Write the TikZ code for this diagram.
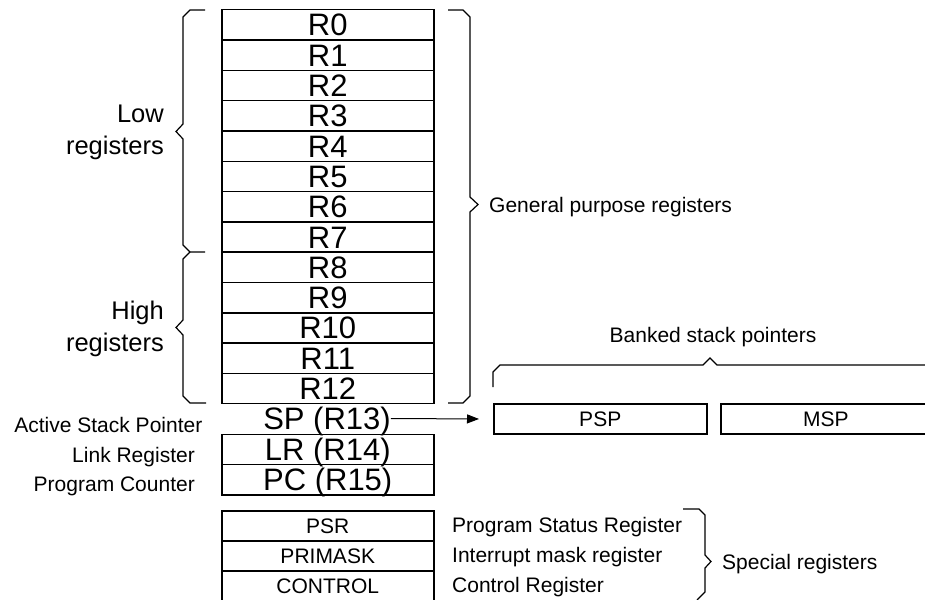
\documentclass[tikz,border=0pt]{standalone}
\usepackage{fontspec}
\setmainfont{Liberation Sans}
\usetikzlibrary{arrows.meta}
\begin{document}
\begin{tikzpicture}[x=1pt,y=-1pt,
  reg/.style={draw, line width=1.5pt, minimum width=212pt, minimum height=30.3pt,
    inner sep=0pt, font=\fontsize{31}{31}\selectfont, text height=22pt, text depth=0pt,
    anchor=north west},
  regtext/.style={inner sep=0pt, font=\fontsize{31}{31}\selectfont, text height=22pt, text depth=0pt},
  sbox/.style={draw, line width=1.5pt, minimum height=30pt, inner sep=0pt,
    font=\fontsize{21}{21}\selectfont, text height=15pt, text depth=0pt, anchor=north west},
  small/.style={inner sep=0pt, font=\fontsize{21}{25}\selectfont},
  smallc/.style={small, text height=15pt, text depth=0pt},
  mid/.style={inner sep=0pt, font=\fontsize{25.5}{32}\selectfont},
  brace/.style={line width=1.2pt, line join=miter},
  conn/.style={line width=1pt, -{Triangle[length=12pt,width=9pt]}}
]
\path[use as bounding box, clip] (0,0) rectangle (925,599);
\fill[white] (0,0) rectangle (925,599);

% general purpose registers
\foreach \i in {0,...,12} {
  \node[reg] (r\i) at (221,{9+30.3*\i}) {R\i};
}
\node[regtext] (sp) at (327,418.5) {SP (R13)};
\node[reg] (lr) at (221,433.6) {LR (R14)};
\node[reg] (pc) at (221,463.9) {PC (R15)};

% left labels
\node[small, anchor=base east] (lsp) at (202.5,432) {Active Stack Pointer};
\node[small, anchor=base east] (llr) at (195,462) {Link Register};
\node[small, anchor=base east] (lpc) at (195,491) {Program Counter};

\node[mid, align=right, anchor=east] (low) at (164,132.5) {Low\\registers};
\node[mid, align=right, anchor=east] (high) at (164,328.5) {High\\registers};

% braces left
\draw[brace] (205,10) -- (190,10) -- (183,17) -- (183,124) -- (176,131.5) -- (183,139)
  -- (183,245) -- (190,252) -- (205,252);
\draw[brace] (190,252) -- (183,259) -- (183,320) -- (176,327.5) -- (183,335)
  -- (183,396) -- (190,403) -- (206,403);
% brace right
\draw[brace] (448,10) -- (463,10) -- (470,17) -- (470,197) -- (478,204.5) -- (470,212)
  -- (470,396) -- (463,403) -- (448,403);
\node[smallc, anchor=west] (gpr) at (489,204.5) {General purpose registers};

% banked stack pointers
\node[sbox, minimum width=213pt] (psp) at (493,403.3) {PSP};
\node[sbox, minimum width=210pt] (msp) at (720,403.3) {MSP};
\draw[brace] (493,387) -- (493,372) -- (500,365) -- (703,365) -- (710,358) -- (717,365)
  -- (935,365);
\node[small, anchor=base] (bsp) at (713,342) {Banked stack pointers};
\draw[conn, shorten >=14pt] (sp.east) -- (psp.west);

% special registers
\node[sbox, minimum width=212pt] (psr) at (221,510) {PSR};
\node[sbox, minimum width=212pt] (primask) at (221,540) {PRIMASK};
\node[sbox, minimum width=212pt] (control) at (221,570) {CONTROL};
\node[smallc, anchor=west] (dpsr) at (452,525) {Program Status Register};
\node[smallc, anchor=west] (dprimask) at (452,555) {Interrupt mask register};
\node[smallc, anchor=west] (dcontrol) at (452,585) {Control Register};
\draw[brace] (683,509) -- (699,509) -- (705,515) -- (705,555) -- (711,561.5) -- (705,568)
  -- (705,592) -- (697,600);
\node[smallc, anchor=west] (spr) at (722,561.5) {Special registers};
\end{tikzpicture}
\end{document}
